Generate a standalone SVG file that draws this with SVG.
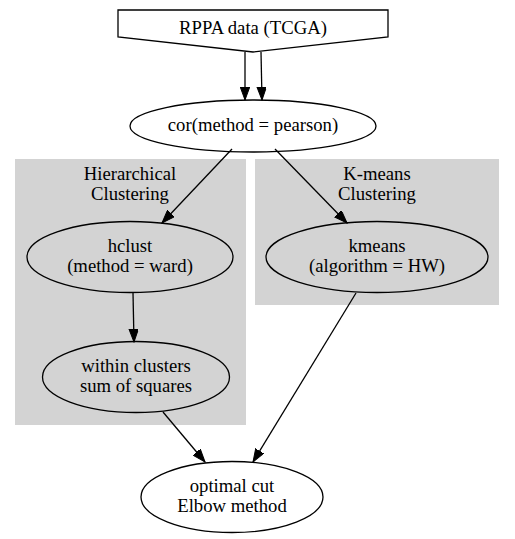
<svg xmlns="http://www.w3.org/2000/svg" width="515" height="539" viewBox="0 0 515 539">
<style>
.n{fill:none;stroke:#000;stroke-width:1.3}
.c{fill:#d3d3d3;stroke:#d3d3d3}
text{font-family:"Liberation Serif","Times New Roman",serif;font-size:18.7px;text-anchor:middle;fill:#000}
.e{fill:none;stroke:#000;stroke-width:1.3;marker-end:url(#a)}
</style>
<defs>
<marker id="a" markerUnits="userSpaceOnUse" markerWidth="14" markerHeight="10" refX="13" refY="4.75" orient="auto">
<path d="M0,0 L13,4.75 L0,9.5 z" fill="#000" stroke="#000" stroke-width="1"/>
</marker>
</defs>
<rect width="515" height="539" fill="#fff"/>
<g id="cluster_h">
<rect class="c" x="15.5" y="159.5" width="230" height="265"/>
<text x="130" y="180">Hierarchical</text>
<text x="130" y="200">Clustering</text>
</g>
<g id="cluster_k">
<rect class="c" x="255.5" y="159.5" width="243" height="145"/>
<text x="377" y="180">K-means</text>
<text x="377" y="200">Clustering</text>
</g>
<g id="rppa">
<polygon class="n" fill="#fff" points="118,10 388,10 388,37 253,52 118,37"/>
<text x="253" y="34">RPPA data (TCGA)</text>
</g>
<g id="cor">
<ellipse class="n" cx="253" cy="126" rx="123" ry="26"/>
<text x="253" y="131">cor(method = pearson)</text>
</g>
<g id="hclust">
<ellipse class="n" cx="130" cy="257" rx="103" ry="35.5"/>
<text x="130" y="252">hclust</text>
<text x="130" y="272">(method = ward)</text>
</g>
<g id="kmeans">
<ellipse class="n" cx="377" cy="257" rx="111" ry="35.5"/>
<text x="377" y="252">kmeans</text>
<text x="377" y="272">(algorithm = HW)</text>
</g>
<g id="wss">
<ellipse class="n" cx="136" cy="377" rx="93.5" ry="35.5"/>
<text x="136" y="372">within clusters</text>
<text x="136" y="392">sum of squares</text>
</g>
<g id="optimal">
<ellipse class="n" cx="232" cy="497" rx="91" ry="35.5"/>
<text x="232" y="492">optimal cut</text>
<text x="232" y="512">Elbow method</text>
</g>
<g id="edges">
<line class="e" x1="245" y1="52" x2="245" y2="100"/>
<line class="e" x1="261" y1="52" x2="262" y2="100"/>
<line class="e" x1="232" y1="149" x2="162" y2="223"/>
<line class="e" x1="275" y1="149" x2="347" y2="223"/>
<line class="e" x1="133" y1="293" x2="134" y2="342"/>
<line class="e" x1="163" y1="412" x2="205" y2="462"/>
<line class="e" x1="356" y1="293" x2="253" y2="462"/>
</g>
</svg>
